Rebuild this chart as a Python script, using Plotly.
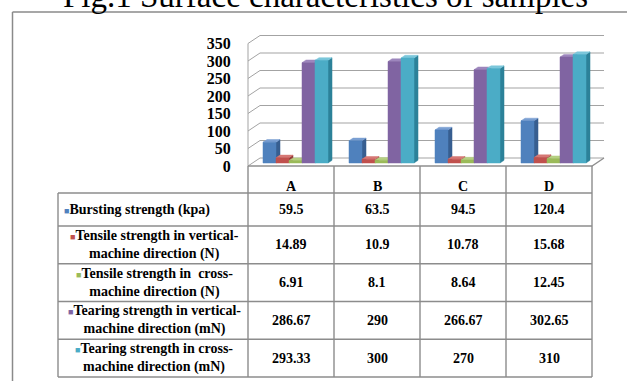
import plotly.graph_objects as go

# ---------------- data ----------------
samples = ["A", "B", "C", "D"]
series_labels = [
    "Bursting strength (kpa)",
    "Tensile strength in vertical-<br>machine direction (N)",
    "Tensile strength in  cross-<br>machine direction (N)",
    "Tearing strength in vertical-<br>machine direction (mN)",
    "Tearing strength in cross-<br>machine direction (mN)",
]
bursting = [59.5, 63.5, 94.5, 120.4]
tensile_vertical = [14.89, 10.9, 10.78, 15.68]
tensile_cross = [6.91, 8.1, 8.64, 12.45]
tearing_vertical = [286.67, 290, 266.67, 302.65]
tearing_cross = [293.33, 300, 270, 310]
y_ticks = [0, 50, 100, 150, 200, 250, 300, 350]
title_text = "Fig.1 Surface characteristics of samples"

series_values = [bursting, tensile_vertical, tensile_cross, tearing_vertical, tearing_cross]
front_colors = ["#4F81BD", "#C0504D", "#9BBB59", "#8064A2", "#4BACC6"]
side_colors = ["#375E90", "#923B39", "#769040", "#5E4780", "#2C8199"]
top_colors = ["#7A9FD2", "#D67875", "#B6CF82", "#9D86BD", "#7CC7DB"]

# ---------------- geometry ----------------
W, H = 627, 381
COL_PX = 86.0      # pixels per category
VAL_PX = 0.35      # pixels per value unit
LEFT_PX = 248.0    # left edge of first category column
ZERO_PX = 166.0    # pixel row of value 0 on the front of the floor
x_range = [-0.5 - LEFT_PX / COL_PX, -0.5 + (W - LEFT_PX) / COL_PX]
y_range = [-(H - ZERO_PX) / VAL_PX, ZERO_PX / VAL_PX]

DEPTH_X = 12.0 / COL_PX   # oblique shift of the back wall (category units)
DEPTH_Y = 8.0 / VAL_PX    # oblique shift of the back wall (value units)


def shift(d):
    return d * DEPTH_X, d * DEPTH_Y


BAR_W = 13.0 / COL_PX
FRONT_D, BACK_D = 0.375, 0.71
n_series = len(series_values)


def px2x(px):
    return px / W


def py2y(py):
    return 1 - py / H


fig = go.Figure()

# back wall grid, left wall ticks, floor edge and value axis line
bx, by = shift(1.0)
x_lo, x_hi = -0.5, len(samples) - 0.5
gx, gy = [], []
for t in y_ticks:
    gx += [x_lo, x_lo + bx, x_hi + bx, None]
    gy += [t, t + by, t + by, None]
gx += [x_lo, x_lo, None]
gy += [0, y_ticks[-1], None]
fig.add_trace(go.Scatter(x=gx, y=gy, mode="lines", line=dict(color="#A3A3A3", width=1),
                         hoverinfo="skip"))
fig.add_trace(go.Scatter(x=[x_lo, x_hi, x_hi + bx], y=[0, 0, by], mode="lines",
                         line=dict(color="#8E8E8E", width=1.3), hoverinfo="skip"))

# pseudo-3D columns: side, top and front face of each bar
fx0, fy0 = shift(FRONT_D)
ddx, ddy = shift(BACK_D - FRONT_D)
for s, vals in enumerate(series_values):
    sx, sy, tx, ty, qx, qy = [], [], [], [], [], []
    for c, v in enumerate(vals):
        x0 = c + (s - n_series / 2) * BAR_W + fx0
        x1 = x0 + BAR_W
        y0 = fy0
        y1 = v + fy0
        sx += [x1, x1 + ddx, x1 + ddx, x1, x1, None]
        sy += [y0, y0 + ddy, y1 + ddy, y1, y0, None]
        tx += [x0, x1, x1 + ddx, x0 + ddx, x0, None]
        ty += [y1, y1, y1 + ddy, y1 + ddy, y1, None]
        qx += [x0, x1, x1, x0, x0, None]
        qy += [y0, y0, y1, y1, y0, None]
    for xs, ys, col in ((sx, sy, side_colors[s]), (tx, ty, top_colors[s]), (qx, qy, front_colors[s])):
        fig.add_trace(go.Scatter(x=xs, y=ys, mode="lines", fill="toself", fillcolor=col,
                                 line=dict(color=col, width=0.5), hoverinfo="skip"))

# ---------------- data table ----------------
TABLE_LINE = "#8C8C8C"
legend_left = 58
table_right = LEFT_PX + COL_PX * len(samples)
row_edges = [193, 226, 263.75, 301.5, 339.25, 377]
shapes = []
for r in row_edges:
    shapes.append(dict(type="line", xref="paper", yref="paper", x0=px2x(legend_left), x1=px2x(table_right),
                       y0=py2y(r), y1=py2y(r), line=dict(color=TABLE_LINE, width=1.4)))
shapes.append(dict(type="line", xref="paper", yref="paper", x0=px2x(legend_left), x1=px2x(legend_left),
                   y0=py2y(row_edges[0]), y1=py2y(row_edges[-1]), line=dict(color=TABLE_LINE, width=1.4)))
for c in range(len(samples) + 1):
    shapes.append(dict(type="line", xref="x", yref="paper", x0=c - 0.5, x1=c - 0.5,
                       y0=py2y(ZERO_PX), y1=py2y(row_edges[-1]), line=dict(color=TABLE_LINE, width=1.4)))
# frame around the figure
shapes.append(dict(type="line", xref="paper", yref="paper", x0=px2x(12.5), x1=1,
                   y0=py2y(12), y1=py2y(12), line=dict(color="#8A8A8A", width=1.5)))
shapes.append(dict(type="line", xref="paper", yref="paper", x0=px2x(12.5), x1=px2x(12.5),
                   y0=py2y(12), y1=0, line=dict(color="#8A8A8A", width=1.5)))

serif = "Liberation Serif"
annotations = []
annotations.append(dict(text=title_text, xref="paper", yref="paper", x=px2x(325), y=py2y(-4),
                        xanchor="center", yanchor="middle", showarrow=False,
                        font=dict(family=serif, size=33, color="black")))
for c, name in enumerate(samples):
    annotations.append(dict(text=name, xref="x", yref="paper", x=c, y=py2y(186),
                            xanchor="center", yanchor="middle", showarrow=False,
                            font=dict(family=serif, size=14, color="black", weight="bold")))
for s, (label, vals) in enumerate(zip(series_labels, series_values)):
    yc = py2y((row_edges[s] + row_edges[s + 1]) / 2)
    txt = f'<span style="color:{front_colors[s]};font-size:9px">■</span>{label}'
    if "<br>" in label:
        annotations.append(dict(text=txt, xref="paper", yref="paper", x=px2x(154), y=yc,
                                xanchor="center", yanchor="middle", align="center", showarrow=False,
                                font=dict(family=serif, size=14, color="black", weight="bold")))
    else:
        annotations.append(dict(text=txt, xref="paper", yref="paper", x=px2x(62), y=yc,
                                xanchor="left", yanchor="middle", align="left", showarrow=False,
                                font=dict(family=serif, size=14, color="black", weight="bold")))
    for c, v in enumerate(vals):
        annotations.append(dict(text=f"{v:g}", xref="x", yref="paper", x=c, y=yc,
                                xanchor="center", yanchor="middle", showarrow=False,
                                font=dict(family=serif, size=14, color="black", weight="bold")))

fig.update_layout(
    width=W, height=H, margin=dict(l=0, r=0, t=0, b=0),
    paper_bgcolor="white", plot_bgcolor="white", showlegend=False,
    xaxis=dict(range=x_range, domain=[0, 1], visible=False, fixedrange=True),
    yaxis=dict(range=y_range, domain=[0, 1], tickvals=y_ticks, showgrid=False, zeroline=False,
               showline=False, ticks="outside", ticklen=14, tickcolor="rgba(0,0,0,0)",
               tickfont=dict(family=serif, size=16, color="black", weight="bold"),
               anchor="free", position=LEFT_PX / W, fixedrange=True),
    shapes=shapes,
    annotations=annotations,
)

fig.write_html("out.html")
